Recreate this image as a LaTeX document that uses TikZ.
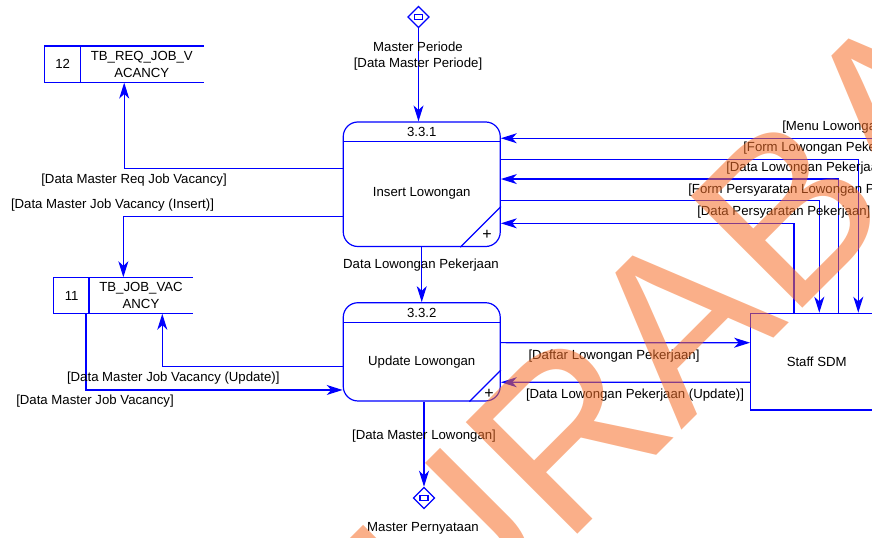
\documentclass[tikz,border=0pt]{standalone}
\usepackage{fontspec}
\setmainfont{Liberation Sans}
\usetikzlibrary{shapes.geometric, arrows.meta}

\definecolor{wmorange}{RGB}{245,110,40}

\tikzset{
  link/.style={draw=blue, line width=0.9pt},
  flow/.style={link, -{Stealth[length=12pt, width=7.5pt, inset=3.5pt]}},
  process/.style={rectangle, draw=blue, line width=0.9pt, rounded corners=11pt, minimum width=117.75pt},
  store/.style={rectangle, minimum height=27pt},
  flowtext/.style={font=\fontsize{9.9}{12.7}\selectfont, inner sep=0pt, align=center},
  connector/.style={diamond, draw=blue, line width=0.9pt, minimum size=16pt, inner sep=0pt},
}

\begin{document}
\begin{tikzpicture}[x=0.75pt, y=-0.75pt]
  \useasboundingbox (0, 0) rectangle (872, 538);
  \clip (0, 0) rectangle (872, 538);

  \node (insert-proc) [process, minimum height=93.4pt] at (421.75, 184.25) {};
  \node (update-proc) [process, minimum height=73.7pt] at (421.75, 351.85) {};
  \node (staff-sdm) [rectangle, draw=blue, line width=0.9pt, minimum width=99pt, minimum height=72.5pt, flowtext] at (816.7, 361.65) {Staff SDM};
  \node (tb-req) [store, minimum width=118.7pt] at (124.2, 64.35) {};
  \node (tb-job) [store, minimum width=104pt] at (123.35, 295.5) {};
  \node (master-periode) [connector] at (418.5, 17) {};
  \node (master-pernyataan) [connector] at (424, 498) {};
  \node (periode-mark) [rectangle, draw=blue, line width=0.9pt, minimum width=6pt, minimum height=4pt, inner sep=0pt] at (master-periode) {};
  \node (pernyataan-mark) [rectangle, draw=blue, line width=0.9pt, minimum width=6pt, minimum height=4pt, inner sep=0pt] at (master-pernyataan) {};

  \draw[link] ([yshift=-15.2pt]insert-proc.north west) -- ([yshift=-15.2pt]insert-proc.north east);
  \draw[link] ([xshift=-30.4pt]insert-proc.south east) -- ([yshift=30.4pt]insert-proc.south east);
  \draw[link] ([yshift=-15.5pt]update-proc.north west) -- ([yshift=-15.5pt]update-proc.north east);
  \draw[link] ([xshift=-23.6pt]update-proc.south east) -- ([yshift=23.6pt]update-proc.south east);

  \draw[link] (tb-req.north east) -- (tb-req.north west) -- (tb-req.south west) -- (tb-req.south east);
  \draw[link] ([xshift=26.5pt]tb-req.north west) -- ([xshift=26.5pt]tb-req.south west);
  \draw[link] (tb-job.north east) -- (tb-job.north west) -- (tb-job.south west) -- (tb-job.south east);
  \draw[link] ([xshift=26.5pt]tb-job.north west) -- ([xshift=26.5pt]tb-job.south west);

  \node (insert-id) [flowtext] at (421.75, 132) {3.3.1};
  \node (insert-name) [flowtext] at (421.75, 193.5) {Insert Lowongan};
  \node (insert-plus) [flowtext, font=\fontsize{12}{12}\selectfont] at ([xshift=-10.4pt, yshift=8.8pt]insert-proc.south east) {+};
  \node (update-id) [flowtext] at (421.75, 313) {3.3.2};
  \node (update-name) [flowtext] at (421.75, 362) {Update Lowongan};
  \node (update-plus) [flowtext, font=\fontsize{12}{12}\selectfont] at ([xshift=-8.8pt, yshift=5.6pt]update-proc.south east) {+};
  \node (tb-req-id) [flowtext] at (62.7, 64.35) {12};
  \node (tb-req-name) [flowtext] at (141.8, 64) {TB\_REQ\_JOB\_V\\ACANCY};
  \node (tb-job-id) [flowtext] at (71.7, 295.5) {11};
  \node (tb-job-name) [flowtext] at (141, 295.5) {TB\_JOB\_VAC\\ANCY};

  \draw[flow] (master-periode) -- (master-periode |- insert-proc.north);
  \draw[flow] (insert-proc) -- (update-proc);
  \draw[flow] (update-proc.south -| master-pernyataan) -- (master-pernyataan);

  \draw[flow] ([yshift=12pt]insert-proc.west) -| (tb-req);
  \draw[flow] ([yshift=-24.3pt]insert-proc.west) -| (tb-job);
  \draw[flow] ([yshift=-11.1pt]update-proc.west) -| ([xshift=29.2pt]tb-job.south);
  \draw[flow] ([xshift=-28pt]tb-job.south) |- ([yshift=-28.6pt]update-proc.west);

  \draw[flow] ([yshift=6.9pt]update-proc.east) -- ([yshift=14.2pt]staff-sdm.west);
  \draw[flow] ([yshift=-15.5pt]staff-sdm.west) -- ([yshift=-22.8pt]update-proc.east);

  \draw[flow] ([xshift=43.7pt]staff-sdm.north) |- ([yshift=34.5pt]insert-proc.east);
  \draw[flow] ([yshift=18.7pt]insert-proc.east) -| ([xshift=31.2pt]staff-sdm.north);
  \draw[flow] ([xshift=16.2pt]staff-sdm.north) |- ([yshift=3.9pt]insert-proc.east);
  \draw[flow] ([yshift=-12.3pt]insert-proc.east) -| ([xshift=1.95pt]staff-sdm.north);
  \draw[flow] ([xshift=-17pt]staff-sdm.north) |- ([yshift=-29.3pt]insert-proc.east);

  \node (periode-name) [flowtext] at (418, 46.5) {Master Periode};
  \node (periode-data) [flowtext] at (418, 64.5) {[Data Master Periode]};
  \node (req-insert) [flowtext] at (134, 180) {[Data Master Req Job Vacancy]};
  \node (job-insert) [flowtext] at (112.5, 205.5) {[Data Master Job Vacancy (Insert)]};
  \node (lowongan-data) [flowtext] at (421, 265.5) {Data Lowongan Pekerjaan};
  \node (job-update) [flowtext] at (173.3, 378.3) {[Data Master Job Vacancy (Update)]};
  \node (job-data) [flowtext] at (95, 400.7) {[Data Master Job Vacancy]};
  \node (lowongan-master) [flowtext] at (424, 436.5) {[Data Master Lowongan]};
  \node (pernyataan-name) [flowtext] at (423, 528.3) {Master Pernyataan};
  \node (daftar-lowongan) [flowtext] at (614, 356) {[Daftar Lowongan Pekerjaan]};
  \node (lowongan-update) [flowtext] at (635, 395) {[Data Lowongan Pekerjaan (Update)]};
  \node (menu-lowongan) [flowtext, anchor=west] at (782, 127) {[Menu Lowonga};
  \node (form-lowongan) [flowtext, anchor=west] at (743, 148) {[Form Lowongan Peke};
  \node (data-lowongan) [flowtext, anchor=west] at (726, 168.3) {[Data Lowongan Pekerjaa};
  \node (form-syarat) [flowtext, anchor=west] at (688, 190) {[Form Persyaratan Lowongan P};
  \node (data-syarat) [flowtext, anchor=west] at (697, 211.7) {[Data Persyaratan Pekerjaan]};

  \node (watermark) [rotate=45, text=wmorange, text opacity=0.55, inner sep=0pt, font=\fontsize{172}{172}\selectfont] at (713, 287) {SURABAYA};
\end{tikzpicture}
\end{document}
